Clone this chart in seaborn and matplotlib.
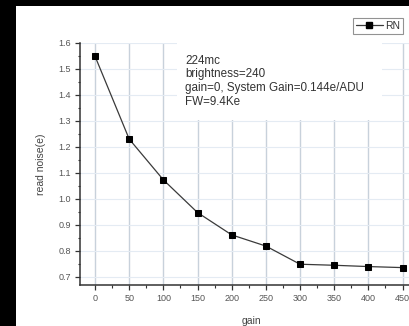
import matplotlib
matplotlib.use("Agg")
import matplotlib.pyplot as plt
from matplotlib.lines import Line2D
from matplotlib.patches import Rectangle
from matplotlib.ticker import MultipleLocator, FormatStrFormatter
import pandas as pd
import seaborn as sns

# values
gain = [0, 50, 100, 150, 200, 250, 300, 350, 400, 450]
read_noise = [1.549, 1.230, 1.073, 0.947, 0.861, 0.818, 0.748, 0.744, 0.739, 0.735]
note_lines = ["224mc", "brightness=240", "gain=0, System Gain=0.144e/ADU", "FW=9.4Ke"]
series_name = "RN"

df = pd.DataFrame({"gain": gain, "read noise(e)": read_noise, "series": series_name})

sns.set_style("ticks")
plt.rcParams["font.family"] = ["Liberation Sans", "DejaVu Sans"]

W, H = 410, 326
fig = plt.figure(figsize=(W / 100, H / 100), dpi=100, facecolor="black")
# white page area (black margin at left/top of the screenshot)
fig.patches.append(Rectangle((16 / W, 0), 1 - 16 / W, 1 - 6 / H, transform=fig.transFigure,
                             facecolor="white", edgecolor="none", zorder=-10))

ax = fig.add_axes([80 / W, 1 - 285 / H, 343 / W, 242 / H])
ax.set_facecolor("none")

line_kw = dict(color="#3a3a3a", linewidth=0.9, marker="s", markersize=4.4,
               markerfacecolor="black", markeredgecolor="black")
sns.lineplot(data=df, x="gain", y="read noise(e)", ax=ax, zorder=3, legend=False, **line_kw)

ax.set_xlim(-22, 480)
ax.set_ylim(0.668, 1.60)
ax.xaxis.set_major_locator(MultipleLocator(50))
ax.xaxis.set_minor_locator(MultipleLocator(25))
ax.yaxis.set_major_locator(MultipleLocator(0.1))
ax.yaxis.set_minor_locator(MultipleLocator(0.05))
ax.yaxis.set_major_formatter(FormatStrFormatter("%.1f"))

ax.set_axisbelow(True)
ax.grid(True, axis="x", color="#c8d1db", linewidth=1.0, zorder=0)
ax.grid(True, axis="y", color="#e4ebf3", linewidth=0.8, zorder=0)

for side in ["top", "right"]:
    ax.spines[side].set_visible(False)
for side in ["left", "bottom"]:
    ax.spines[side].set_color("#333333")
    ax.spines[side].set_linewidth(1.1)

ax.tick_params(axis="both", which="major", direction="out", length=3.5, width=0.9,
               color="#333333", labelsize=6.5, labelcolor="#555555", pad=3)
ax.tick_params(axis="both", which="minor", direction="out", length=1.8, width=0.8,
               color="#333333")
ax.set_xlabel("gain", fontsize=7.5, color="#444444", labelpad=9)
ax.set_ylabel("read noise(e)", fontsize=7.5, color="#444444", labelpad=9)

# white box behind the annotation, hiding the grid
ax.add_patch(Rectangle((120, 1.304), 300, 0.30, facecolor="white", edgecolor="none", zorder=1))
ax.text(132, 1.555, "\n".join(note_lines), fontsize=8.4, color="#333333",
        va="top", ha="left", linespacing=1.2, zorder=2)

handle = Line2D([], [], **line_kw)
leg = fig.legend([handle], [series_name], loc="upper right", bbox_to_anchor=(403 / W, 1 - 18 / H),
                 fontsize=7.5, frameon=True, fancybox=False, edgecolor="#777777", numpoints=1,
                 handlelength=2.6, handletextpad=0.2, borderpad=0.3, borderaxespad=0)
leg.get_frame().set_linewidth(0.8)
for t in leg.get_texts():
    t.set_color("#333333")

fig.savefig("out.png", dpi=100, facecolor=fig.get_facecolor())
